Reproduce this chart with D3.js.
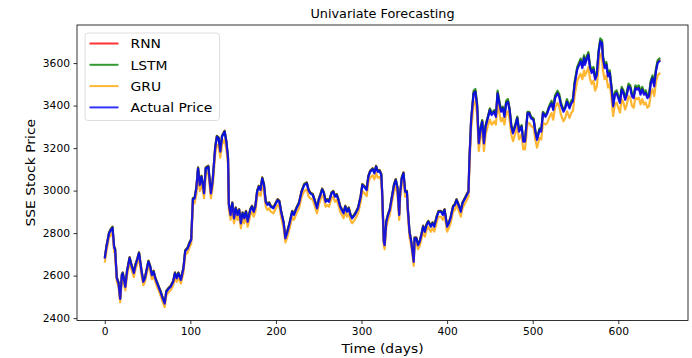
<!DOCTYPE html>
<html><head><meta charset="utf-8">
<script src="https://cdn.jsdelivr.net/npm/d3@7"></script>
<style>
body{margin:0;background:#fff;}
svg text{font-family:"DejaVu Sans",sans-serif;fill:#000;}
</style></head><body>
<svg id="chart" width="692" height="358"></svg>
<script>
const days = [
0,2,5,7,9,11,12,14,16,18,
20,21,24,26,29,31,34,36,38,40,
43,45,47,51,53,55,57,59,62,65,
67,70,72,75,77,80,82,84,86,89,
92,94,97,99,101,103,105,107,109,111,
113,116,118,121,124,126,129,131,133,135,
137,140,142,144,145,147,149,151,153,155,
157,159,161,163,165,167,170,172,174,176,
178,180,182,184,186,188,190,192,194,197,
199,202,204,206,209,211,213,216,219,221,
224,227,230,233,236,238,240,243,245,248,
250,252,254,256,258,260,262,265,267,269,
271,273,275,277,279,281,283,285,287,289,
292,294,296,299,301,303,306,308,310,313,
315,317,319,321,323,324,326,327,329,331,
333,336,338,340,342,344,345,347,349,351,
353,354,356,358,359,361,362,364,366,368,
370,372,374,376,378,381,383,385,388,390,
393,395,397,400,402,404,407,409,411,414,
416,418,421,423,425,426,428,429,431,433,
435,437,439,441,443,445,448,450,452,455,
457,459,461,463,465,467,469,471,473,475,
477,480,482,484,487,489,491,494,496,498,
501,503,505,508,510,512,515,517,519,522,
524,526,529,531,533,536,538,540,543,545,
547,549,552,556,558,560,561,563,565,567,
569,571,573,575,577,579,581,582,584,586,
588,590,592,594,596,598,600,602,604,606,
608,610,612,614,616,618,620,622,624,626,
628,630,632,634,636,638,640,642,644,646,
649];

const actualValues = [
2680,2735,2798,2814,2825,2729,2725,2588,2565,2490,
2602,2610,2547,2618,2682,2650,2612,2650,2675,2705,
2618,2571,2587,2665,2642,2602,2618,2587,2555,2524,
2500,2468,2524,2540,2547,2571,2610,2587,2610,2579,
2635,2715,2729,2752,2768,2960,2963,3010,3104,3026,
3065,2987,3104,3112,2987,3041,3199,3253,3246,3183,
3253,3277,3230,3151,2932,2885,2940,2869,2916,2885,
2908,2846,2893,2869,2900,2853,2908,2924,2900,2924,
2994,3018,3002,3057,3026,2947,2932,2940,2924,2916,
2932,2955,2947,2900,2846,2775,2800,2846,2900,2885,
2916,2940,2994,3026,3034,3002,2987,2979,2955,2916,
2955,2979,3005,2987,2947,2955,2947,2987,2994,2971,
2979,2955,2924,2908,2893,2924,2900,2916,2885,2869,
2885,2900,2916,2971,3026,3018,3002,3065,3088,3100,
3081,3112,3088,3092,3075,3000,2760,2743,2853,2885,
2908,2979,3026,3049,3010,2885,2979,3057,3081,2994,
2994,2916,2806,2759,2728,2665,2775,2775,2743,2759,
2791,2830,2806,2838,2853,2830,2846,2830,2877,2900,
2900,2885,2908,2830,2846,2869,2924,2932,2955,2924,
2900,2940,2963,2979,2994,3136,3324,3371,3457,3465,
3400,3222,3285,3324,3222,3300,3347,3379,3355,3371,
3347,3457,3410,3371,3387,3347,3410,3418,3379,3300,
3269,3308,3340,3277,3300,3230,3230,3363,3363,3340,
3332,3277,3238,3285,3277,3363,3347,3363,3387,3410,
3379,3434,3457,3441,3402,3371,3387,3418,3387,3410,
3420,3500,3569,3608,3576,3624,3592,3616,3639,3576,
3553,3569,3522,3545,3647,3702,3694,3624,3576,3592,
3537,3553,3482,3396,3451,3459,3435,3412,3475,3459,
3427,3451,3490,3482,3443,3435,3482,3475,3482,3451,
3475,3451,3459,3435,3443,3506,3529,3490,3561,3600,
3612];

const rnnValues = [
2685,2740,2803,2819,2830,2734,2730,2593,2570,2495,
2607,2615,2552,2623,2687,2655,2617,2655,2680,2710,
2623,2576,2592,2670,2647,2607,2623,2592,2560,2529,
2505,2473,2529,2545,2552,2576,2615,2592,2615,2584,
2640,2720,2734,2757,2773,2965,2968,3015,3109,3031,
3070,2992,3109,3117,2992,3046,3204,3258,3251,3188,
3258,3282,3235,3156,2937,2890,2945,2874,2921,2890,
2913,2851,2898,2874,2905,2858,2913,2929,2905,2929,
2999,3023,3007,3062,3031,2952,2937,2945,2929,2921,
2937,2960,2952,2905,2851,2780,2805,2851,2905,2890,
2921,2945,2999,3031,3039,3007,2992,2984,2960,2921,
2960,2984,3010,2992,2952,2960,2952,2992,2999,2976,
2984,2960,2929,2913,2898,2929,2905,2921,2890,2874,
2890,2905,2921,2976,3031,3023,3007,3070,3093,3105,
3086,3117,3093,3097,3080,3005,2765,2748,2858,2890,
2913,2984,3031,3054,3015,2890,2984,3062,3086,2999,
2999,2921,2811,2764,2733,2670,2780,2780,2748,2764,
2796,2835,2811,2843,2858,2835,2851,2835,2882,2905,
2905,2890,2913,2835,2851,2874,2929,2937,2960,2929,
2905,2945,2968,2984,2999,3141,3329,3376,3462,3470,
3405,3227,3290,3329,3227,3305,3352,3384,3360,3376,
3352,3462,3415,3376,3392,3352,3415,3423,3384,3305,
3274,3313,3345,3282,3305,3235,3235,3368,3368,3345,
3337,3282,3243,3290,3282,3368,3352,3368,3392,3415,
3384,3439,3462,3446,3407,3376,3392,3423,3392,3415,
3425,3505,3574,3613,3581,3629,3597,3621,3644,3581,
3558,3574,3527,3550,3652,3707,3699,3629,3581,3597,
3542,3558,3487,3401,3456,3464,3440,3417,3480,3464,
3432,3456,3495,3487,3448,3440,3487,3480,3487,3456,
3480,3456,3464,3440,3448,3511,3534,3495,3566,3605,
3617];

const lstmValues = [
2684,2739,2802,2818,2829,2733,2729,2592,2569,2494,
2606,2614,2551,2622,2686,2654,2616,2654,2679,2709,
2622,2575,2591,2669,2646,2606,2622,2591,2559,2528,
2504,2472,2528,2544,2551,2575,2614,2591,2614,2583,
2639,2719,2733,2756,2772,2964,2967,3014,3108,3030,
3069,2991,3108,3116,2991,3045,3203,3257,3250,3187,
3257,3281,3234,3155,2936,2889,2944,2873,2920,2889,
2912,2850,2897,2873,2904,2857,2912,2928,2904,2928,
2998,3022,3006,3061,3030,2951,2936,2944,2928,2920,
2936,2959,2951,2904,2850,2779,2804,2850,2904,2889,
2920,2944,2998,3030,3038,3006,2991,2983,2959,2920,
2959,2983,3009,2991,2951,2959,2951,2991,2998,2975,
2983,2959,2928,2912,2897,2928,2904,2920,2889,2873,
2889,2904,2920,2975,3030,3022,3006,3069,3092,3104,
3085,3116,3092,3096,3079,3004,2764,2747,2857,2889,
2912,2983,3030,3053,3014,2889,2983,3061,3085,2998,
2998,2920,2810,2763,2732,2669,2779,2779,2747,2763,
2795,2834,2810,2842,2857,2834,2850,2834,2881,2904,
2904,2889,2912,2834,2850,2873,2928,2936,2959,2928,
2904,2944,2967,2983,2998,3140,3328,3375,3470,3478,
3413,3230,3293,3332,3230,3308,3355,3387,3363,3379,
3355,3470,3423,3379,3395,3355,3423,3431,3387,3308,
3277,3316,3348,3285,3308,3238,3238,3371,3371,3348,
3340,3285,3246,3293,3285,3371,3355,3371,3395,3423,
3387,3447,3470,3454,3415,3379,3395,3431,3395,3423,
3433,3513,3582,3621,3589,3637,3605,3629,3652,3589,
3566,3582,3535,3558,3660,3716,3707,3637,3589,3605,
3550,3566,3495,3404,3464,3472,3448,3425,3488,3472,
3440,3464,3503,3495,3456,3448,3495,3488,3495,3464,
3488,3464,3472,3448,3456,3519,3542,3503,3574,3613,
3625];

const gruValues = [
2661,2716,2779,2791,2802,2710,2706,2572,2549,2474,
2583,2591,2531,2599,2663,2631,2593,2631,2656,2686,
2599,2555,2571,2646,2623,2583,2599,2571,2539,2508,
2484,2452,2508,2524,2531,2555,2591,2571,2591,2563,
2616,2696,2710,2733,2749,2937,2940,2982,3076,2998,
3037,2964,3076,3084,2964,3013,3171,3217,3210,3155,
3217,3241,3194,3123,2909,2862,2917,2846,2893,2862,
2885,2823,2870,2846,2877,2830,2885,2901,2877,2901,
2971,2990,2974,3029,2998,2924,2909,2917,2901,2893,
2909,2932,2924,2877,2823,2756,2777,2823,2877,2862,
2893,2917,2971,2998,3006,2974,2964,2956,2932,2893,
2932,2956,2977,2964,2924,2932,2924,2964,2971,2948,
2956,2932,2901,2885,2870,2901,2877,2893,2862,2846,
2862,2877,2893,2948,2998,2990,2974,3037,3060,3072,
3053,3084,3060,3064,3047,2972,2741,2724,2830,2862,
2885,2956,2998,3021,2982,2862,2956,3029,3053,2971,
2971,2893,2783,2740,2709,2646,2756,2756,2724,2740,
2772,2807,2783,2815,2830,2807,2823,2807,2854,2877,
2877,2862,2885,2807,2823,2846,2901,2909,2932,2901,
2877,2917,2940,2956,2971,3108,3288,3326,3412,3420,
3355,3186,3249,3288,3186,3264,3311,3334,3310,3326,
3311,3412,3365,3326,3342,3311,3365,3373,3334,3264,
3233,3272,3304,3241,3264,3194,3194,3318,3318,3304,
3296,3241,3202,3249,3241,3318,3311,3318,3342,3365,
3334,3389,3412,3396,3357,3326,3342,3373,3342,3365,
3375,3448,3517,3550,3524,3566,3540,3558,3581,3524,
3501,3517,3470,3493,3589,3644,3636,3566,3524,3540,
3485,3501,3437,3351,3406,3414,3390,3367,3430,3414,
3382,3406,3445,3437,3398,3390,3437,3430,3437,3406,
3430,3406,3414,3390,3398,3454,3477,3445,3509,3542,
3554];

const seriesNames = ["RNN", "LSTM", "GRU", "Actual Price"];
const seriesColors = ["red", "green", "orange", "blue"];
const xTickValues = [0, 100, 200, 300, 400, 500, 600];
const yTickValues = [2400, 2600, 2800, 3000, 3200, 3400, 3600];
const titleText = "Univariate Forecasting";
const xLabel = "Time (days)";
const yLabel = "SSE Stock Price";

const series = [rnnValues, lstmValues, gruValues, actualValues];

const SX = 1.07; // horizontal stretch of glyphs seen in the reference
const plot = {left: 77, right: 688, top: 25, bottom: 320.5};
const svg = d3.select("#chart");

const xMax = d3.max(days), xMin = d3.min(days);
const xPad = (xMax - xMin) * 0.05;
const x = d3.scaleLinear().domain([xMin - xPad, xMax + xPad]).range([plot.left, plot.right]);
const allVals = series.flat();
const yMin = d3.min(allVals), yMax = d3.max(allVals);
const yPad = (yMax - yMin) * 0.05;
const y = d3.scaleLinear().domain([yMin - yPad, yMax + yPad]).range([plot.bottom, plot.top]);

// lines
const line = d3.line().x((d, i) => x(days[i])).y(d => y(d));
svg.append("g").selectAll("path")
  .data(series).join("path")
  .attr("d", d => line(d))
  .attr("fill", "none")
  .attr("stroke", (d, i) => seriesColors[i])
  .attr("stroke-opacity", (d, i) => i === 3 ? 0.85 : 0.8)
  .attr("stroke-width", 2.2)
  .attr("stroke-linejoin", "round");

// axes
const xAxis = d3.axisBottom(x).tickValues(xTickValues).tickSize(3.5).tickPadding(3.5).tickFormat(d3.format("d"));
const yAxis = d3.axisLeft(y).tickValues(yTickValues).tickSize(3.5).tickPadding(3.5).tickFormat(d3.format("d"));
const gx = svg.append("g").attr("transform", `translate(0,${plot.bottom})`).call(xAxis);
const gy = svg.append("g").attr("transform", `translate(${plot.left},0)`).call(yAxis);
[gx, gy].forEach(g => {
  g.select(".domain").remove();
  g.selectAll(".tick line").attr("stroke", "#000").attr("stroke-width", 0.8);
  g.selectAll(".tick text").attr("font-size", 10).attr("font-family", "DejaVu Sans").attr("fill", "#000")
    .attr("transform", `scale(${SX},1)`);
});
gy.selectAll(".tick text").attr("x", -7 / SX);

// frame
svg.append("rect")
  .attr("x", plot.left).attr("y", plot.top)
  .attr("width", plot.right - plot.left).attr("height", plot.bottom - plot.top)
  .attr("fill", "none").attr("stroke", "#000").attr("stroke-width", 0.8);

// title & labels
const cx = (plot.left + plot.right) / 2;
svg.append("text").attr("transform", `translate(${cx},18) scale(${SX},1)`)
  .attr("text-anchor", "middle").attr("font-size", 12).text(titleText);
svg.append("text").attr("transform", `translate(${cx},352.5) scale(${SX},1)`)
  .attr("text-anchor", "middle").attr("font-size", 13).text(xLabel);
svg.append("text").attr("transform", `translate(35,${(plot.top + plot.bottom) / 2}) rotate(-90) scale(${SX},1)`)
  .attr("text-anchor", "middle").attr("font-size", 13).text(yLabel);

// legend
const lg = svg.append("g");
lg.append("rect").attr("x", 85).attr("y", 33).attr("width", 134.5).attr("height", 87.5)
  .attr("rx", 3).attr("fill", "#fff").attr("fill-opacity", 0.8)
  .attr("stroke", "#d5d5d5").attr("stroke-width", 0.8);
seriesNames.forEach((name, i) => {
  const yy = 43.5 + i * 21.3;
  lg.append("line").attr("x1", 89.5).attr("x2", 118.5).attr("y1", yy).attr("y2", yy)
    .attr("stroke", seriesColors[i]).attr("stroke-opacity", 0.8).attr("stroke-width", 2);
  lg.append("text").attr("transform", `translate(130.5,${yy + 4.8}) scale(${SX},1)`)
    .attr("font-size", 13).text(name);
});
</script>
</body></html>
